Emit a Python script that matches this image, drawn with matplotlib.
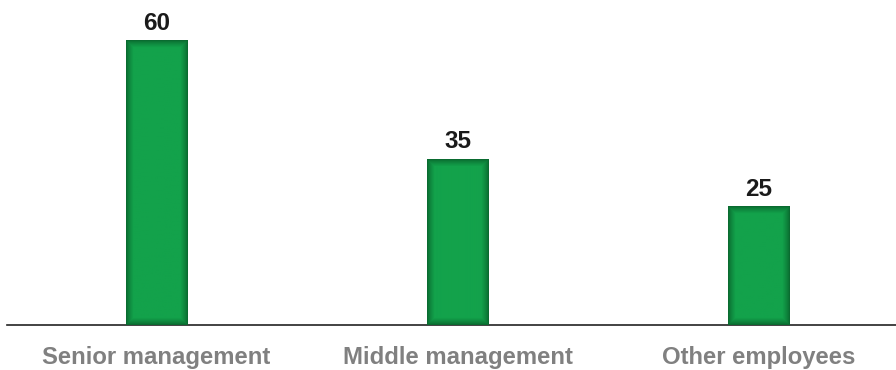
import numpy as np
import matplotlib.pyplot as plt
from matplotlib.colors import to_rgb

categories = ["Senior management", "Middle management", "Other employees"]
values = [60, 35, 25]

plt.rcParams['font.family'] = ['Liberation Sans', 'DejaVu Sans']

W, H = 896, 370
fig = plt.figure(figsize=(W / 100, H / 100), dpi=100)
ax = fig.add_axes([7 / W, 45 / H, 889 / W, 325 / H])

bar_w = 0.2027
x = np.arange(len(categories))

base = np.array(to_rgb("#13a24b"))
dark = np.array(to_rgb("#0a6b30"))

bars = ax.bar(x, values, width=bar_w, color="#13a24b", zorder=2)
for b, v in zip(bars, values):
    # soft darker rim inside each bar
    x0, y0 = b.get_x(), b.get_y()
    pw, ph = 61, int(round(v * 284 / 60))
    ix = np.arange(pw)
    iy = np.arange(ph)
    dx = np.minimum(ix, pw - 1 - ix)[None, :]
    dy_top = iy[:, None]
    dy_bot = (ph - 1 - iy)[:, None]
    d = np.minimum(np.minimum(dx, dy_top), dy_bot).astype(float)
    t = np.clip(d / 7.0, 0, 1) ** 0.8
    img = dark[None, None, :] * (1 - t[..., None]) + base[None, None, :] * t[..., None]
    ax.imshow(img, extent=(x0, x0 + b.get_width(), y0, y0 + v),
              aspect='auto', zorder=3, interpolation='bilinear')
    ax.text(x0 + b.get_width() / 2, v + 2.3, str(v), ha='center', va='baseline',
            fontsize=17.5, fontweight='bold', color='#1a1a1a')

ax.set_xlim(-0.4967, 2.4568)
ax.set_ylim(0, 68.66)

for s in ['top', 'right', 'left']:
    ax.spines[s].set_visible(False)
ax.spines['bottom'].set_color('#222222')
ax.spines['bottom'].set_linewidth(1.2)
ax.set_yticks([])
ax.set_xticks(x)
ax.set_xticklabels(categories, fontsize=17.2, fontweight='bold', color='#808080')
ax.tick_params(axis='x', length=0, pad=15)

fig.savefig("out.png", dpi=100)
